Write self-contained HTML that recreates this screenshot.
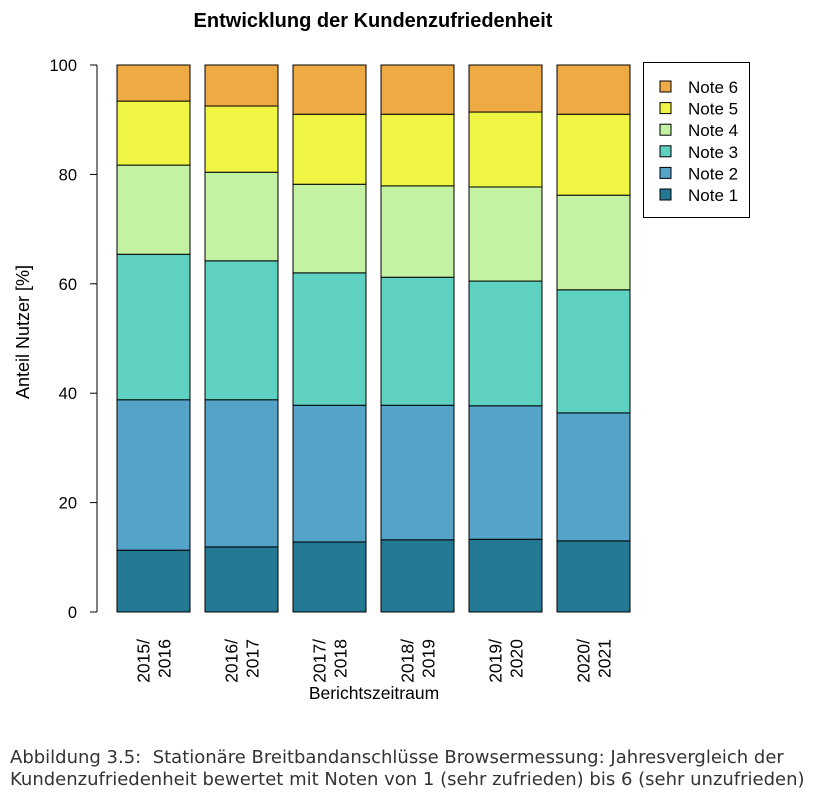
<!DOCTYPE html>
<html><head><meta charset="utf-8"><style>
body{margin:0;background:#fff;width:825px;height:801px;overflow:hidden}
svg text{font-family:"Liberation Sans",Arial,sans-serif}
.cap{position:absolute;left:10px;top:747px;font-family:"DejaVu Sans",Verdana,sans-serif;font-size:18px;color:#333;line-height:22px;white-space:nowrap}
</style></head><body>
<svg id="chart" width="825" height="801" style="position:absolute;left:0;top:0">
<text x="373" y="27" font-size="20" font-weight="bold" text-anchor="middle">Entwicklung der Kundenzufriedenheit</text>
<text transform="translate(29,332) rotate(-90)" font-size="18" text-anchor="middle">Anteil Nutzer [%]</text>
<text x="374" y="699" font-size="17.5" text-anchor="middle">Berichtszeitraum</text>
<g id="bars"></g><g id="axis"></g><g id="legend"></g>
</svg>
<div class="cap">Abbildung 3.5:&nbsp; Stationäre Breitbandanschlüsse Browsermessung: Jahresvergleich der<br>Kundenzufriedenheit bewertet mit Noten von 1 (sehr zufrieden) bis 6 (sehr unzufrieden)</div>
<script>
const categories=[["2015/","2016"],["2016/","2017"],["2017/","2018"],["2018/","2019"],["2019/","2020"],["2020/","2021"]];
const note1=[11.3,11.9,12.8,13.2,13.3,13.0];
const note2=[27.5,26.9,25.0,24.6,24.4,23.4];
const note3=[26.6,25.4,24.2,23.4,22.8,22.5];
const note4=[16.3,16.2,16.2,16.7,17.2,17.3];
const note5=[11.7,12.1,12.8,13.1,13.7,14.8];
const note6=[6.6,7.5,9.0,9.0,8.6,9.0];
const seriesNames=["Note 1","Note 2","Note 3","Note 4","Note 5","Note 6"];
const yTicks=[0,20,40,60,80,100];
const series=[note1,note2,note3,note4,note5,note6];
const colors=["#237893","#54a3c8","#5fd1c1","#c4f2a3","#eff542","#eeaa44"];
const NS="http://www.w3.org/2000/svg";
const y=v=>612-v*5.47;
const x=i=>117+i*88;
const bw=73;
function mk(tag,attrs,parent){const e=document.createElementNS(NS,tag);for(const k in attrs)e.setAttribute(k,attrs[k]);parent.appendChild(e);return e;}
const bars=document.getElementById('bars');
categories.forEach((c,i)=>{
  let cum=0;
  series.forEach((s,j)=>{
    const r=mk('rect',{x:x(i),y:y(cum+s[i]),width:bw,height:y(cum)-y(cum+s[i]),fill:colors[j],stroke:'#000','stroke-width':1},bars);
    
    
    cum+=s[i];
  });
  const t=mk('text',{transform:`translate(${x(i)+bw/2},639) rotate(-90)`,'font-size':17.5,'text-anchor':'end'},bars);
  
  
  const a=mk('tspan',{x:0,y:-4},t);a.textContent=c[0];
  const b=mk('tspan',{x:0,y:17},t);b.textContent=c[1];
});
const ax=document.getElementById('axis');
const al=mk('line',{x1:97,x2:97,y1:y(100),y2:y(0),stroke:'#000'},ax);


yTicks.forEach(v=>{
  mk('line',{x1:90,x2:97,y1:y(v),y2:y(v),stroke:'#000'},ax);
  const t=mk('text',{x:77,y:y(v)+6,'font-size':16.5,'text-anchor':'end'},ax);
  
  
  t.textContent=v;
});
const lg=document.getElementById('legend');
const box=mk('rect',{x:643.5,y:62.5,width:106,height:155,fill:'#fff',stroke:'#000'},lg);


for(let k=5;k>=0;k--){
  const row=5-k, yy=87+row*21.6;
  const s=mk('rect',{x:660,y:yy-6,width:11,height:11,fill:colors[k],stroke:'#000'},lg);
  
  
  const t=mk('text',{x:688,y:yy+6,'font-size':17},lg);
  
  
  t.textContent=seriesNames[k];
}
</script>
</body></html>
